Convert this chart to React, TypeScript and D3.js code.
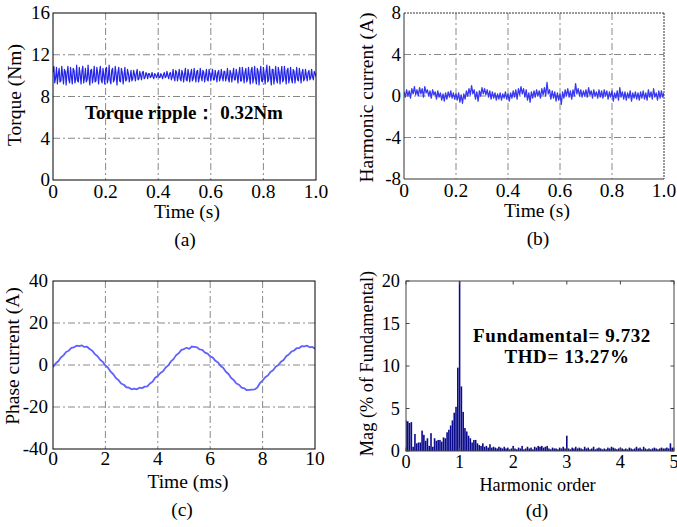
import React from 'react';
import * as d3 from 'd3';

const FONT = '"Liberation Serif", "Times New Roman", Times, serif';

// ---------- Panel (a): torque ----------
const torqueXTicks = [0, 0.2, 0.4, 0.6, 0.8, 1.0];
const torqueXLabels = ['0', '0.2', '0.4', '0.6', '0.8', '1.0'];
const torqueYTicks = [0, 4, 8, 12, 16];
const torqueYLabels = ['0', '4', '8', '12', '16'];
const torqueValues = [
  10.3, 10.9, 9.3, 9.8, 10.8, 9.2, 10.1, 10.7, 9.4, 9.5, 10.9, 10.0, 9.2, 10.6, 10.4,
  9.1, 10.2, 10.9, 9.6, 9.3, 10.8, 9.9, 9.2, 10.7, 10.5, 9.3, 9.7, 11.0, 9.5, 9.4,
  10.8, 10.1, 9.2, 10.4, 10.9, 9.3, 9.8, 10.7, 9.4, 9.6, 11.0, 9.9, 9.1, 10.5, 10.6,
  9.3, 9.9, 10.9, 9.4, 9.5, 10.8, 10.2, 9.2, 10.3, 10.9, 9.6, 9.3, 10.7, 10.0, 9.2,
  10.6, 10.8, 9.3, 9.7, 11.0, 9.6, 9.2, 10.5, 10.7, 9.4, 9.6, 10.9, 10.1, 9.1, 10.3,
  10.8, 9.5, 9.4, 10.7, 10.3, 9.2, 10.0, 10.8, 9.5, 9.6, 10.6, 10.2, 9.4, 9.9, 10.5,
  9.5, 9.7, 10.5, 10.1, 9.5, 10.2, 10.6, 9.6, 9.7, 10.4, 10.0, 9.6, 10.3, 10.4, 9.7,
  9.8, 10.3, 10.1, 9.7, 10.2, 10.2, 9.8, 9.9, 10.3, 9.9, 9.7, 10.2, 10.1, 9.8, 10.0,
  10.3, 9.8, 9.8, 10.2, 10.0, 9.7, 10.1, 10.3, 9.8, 9.9, 10.4, 10.0, 9.7, 10.2, 10.3,
  9.6, 9.9, 10.6, 9.8, 9.5, 10.5, 10.3, 9.5, 10.0, 10.6, 9.7, 9.5, 10.5, 10.2, 9.4,
  10.1, 10.7, 9.6, 9.5, 10.6, 10.1, 9.4, 10.2, 10.6, 9.5, 9.7, 10.7, 10.0, 9.4, 10.4,
  10.5, 9.4, 9.8, 10.7, 9.9, 9.5, 10.5, 10.3, 9.4, 10.0, 10.6, 9.6, 9.5, 10.6, 10.2,
  9.5, 10.1, 10.6, 9.6, 9.6, 10.5, 10.0, 9.4, 10.3, 10.5, 9.5, 9.8, 10.6, 9.9, 9.5,
  10.4, 10.4, 9.5, 9.9, 10.7, 9.7, 9.4, 10.5, 10.2, 9.4, 10.1, 10.7, 9.6, 9.6, 10.6,
  10.1, 9.3, 10.2, 10.8, 9.5, 9.5, 10.8, 10.1, 9.3, 10.3, 10.7, 9.4, 9.7, 10.8, 9.9,
  9.2, 10.5, 10.8, 9.3, 9.8, 10.9, 9.7, 9.2, 10.7, 10.4, 9.1, 10.2, 10.9, 9.5, 9.4,
  10.8, 10.1, 9.2, 10.4, 11.0, 9.4, 9.6, 10.9, 9.9, 9.1, 10.6, 10.6, 9.2, 9.9, 10.9,
  9.6, 9.3, 10.8, 10.3, 9.2, 10.2, 10.9, 9.4, 9.6, 10.9, 10.0, 9.2, 10.5, 10.7, 9.3,
  9.8, 10.8, 9.7, 9.3, 10.6, 10.4, 9.3, 10.0, 10.8, 9.6, 9.5, 10.7, 10.1, 9.3, 10.3,
  10.6, 9.5, 9.7, 10.6, 10.0, 9.5, 10.3, 10.5, 9.6, 9.8, 10.6, 9.9, 9.6, 10.4, 10.2, 9.9,
];

// ---------- Panel (b): harmonic current ----------
const harmYTicks = [-8, -4, 0, 4, 8];
const harmYLabels = ['-8', '-4', '0', '4', '8'];
const harmValues = [
  0.4, -0.1, 0.6, 0.0, 0.5, -0.2, 0.7, 0.2, 0.9, 0.1,
  0.6, 0.0, 0.8, 0.2, 0.7, -0.1, 0.9, 0.3, 0.6, 0.0,
  0.5, -0.2, 0.6, 0.1, 0.4, -0.3, 0.5, -0.1, 0.3, -0.4,
  0.2, -0.5, 0.3, -0.3, 0.4, -0.1, 0.5, -0.2, 0.3, -0.3,
  0.2, -0.4, 0.3, -0.6, 0.1, -0.7, 0.2, -0.3, 0.5, 0.0,
  0.7, 0.1, 1.0, 0.2, 0.6, -0.3, 0.4, -0.5, 0.5, 0.0,
  0.8, 0.2, 0.7, 0.1, 0.6, -0.1, 0.5, -0.3, 0.4, -0.2,
  0.3, -0.4, 0.2, -0.3, 0.3, -0.4, 0.2, -0.2, 0.4, -0.3,
  0.2, -0.5, 0.3, -0.2, 0.5, -0.1, 0.6, -0.3, 0.7, 0.1,
  0.9, 0.2, 0.7, -0.1, 0.6, -0.4, 0.3, -0.6, 0.4, -0.2,
  0.5, -0.1, 0.6, 0.0, 0.5, -0.2, 0.7, 0.1, 0.8, 0.0,
  1.3, 0.2, 0.6, -0.3, 0.5, -0.2, 0.4, -0.5, 0.3, -0.4,
  0.2, -0.8, 0.4, -0.2, 0.6, 0.0, 0.7, -0.1, 0.5, -0.3,
  0.6, 0.0, 1.2, 0.2, 0.7, 0.0, 0.6, -0.1, 0.5, 0.0,
  0.6, -0.1, 0.8, 0.1, 0.5, -0.2, 0.6, 0.0, 0.4, -0.2,
  0.6, -0.1, 0.5, -0.2, 0.6, 0.0, 0.5, -0.3, 0.4, -0.1,
  0.5, -0.5, 0.3, -0.2, 0.5, -0.4, 0.8, -0.1, 0.4, -0.3,
  0.4, -0.4, 0.3, -0.2, 0.5, -0.5, 0.3, -0.2, 0.4, -0.3,
  0.3, -0.4, 0.4, -0.2, 0.5, -0.3, 0.3, -0.4, 0.6, -0.1,
  0.4, -0.3, 0.7, -0.1, 0.3, -0.4, 0.5, -0.2, 0.5, -0.1, 0.3,
];

// ---------- Panel (c): phase current ----------
const phaseXTicks = [0, 2, 4, 6, 8, 10];
const phaseXLabels = ['0', '2', '4', '6', '8', '10'];
const phaseYTicks = [-40, -20, 0, 20, 40];
const phaseYLabels = ['-40', '-20', '0', '20', '40'];
const phaseValues = [
  -1, 0.7, 1.8, 3.6, 4.6, 6.2, 6.8, 8.1, 8.4, 9.2,
  9.0, 9.3, 8.6, 8.7, 7.6, 6.8, 5.2, 4.2, 2.5, 1.5,
  -0.2, -1.3, -3.2, -4.4, -6.2, -7.2, -8.8, -9.4, -10.6, -10.8,
  -11.6, -11.3, -11.6, -10.8, -11.0, -10.3, -10.2, -8.8, -8.0, -6.1,
  -5.2, -3.8, -3.0, -1.2, -0.2, 1.7, 2.8, 4.7, 5.6, 7.2,
  7.6, 8.2, 7.7, 8.8, 8.6, 8.4, 7.4, 7.2, 5.9, 5.4,
  4.1, 3.5, 2.0, 1.2, -0.5, -1.4, -3.2, -4.3, -6.2, -7.2,
  -8.8, -9.4, -10.8, -11.1, -12.0, -11.8, -11.7, -11.6, -10.7, -8.6,
  -7.4, -5.8, -5.0, -3.3, -2.5, -0.8, 0.0, 1.5, 2.4, 4.2,
  5.0, 6.4, 6.9, 8.0, 8.1, 9.0, 8.9, 9.2, 8.4, 8.6, 7.8,
];

// ---------- Panel (d): harmonic spectrum ----------
const specXTicks = [0, 1, 2, 3, 4, 5];
const specXLabels = ['0', '1', '2', '3', '4', '5'];
const specYTicks = [0, 5, 10, 15, 20];
const specYLabels = ['0', '5', '10', '15', '20'];
const specBinsPerOrder = 30;
const specValues = [
  3.6, 3.5, 3.3, 3.4, 0.5, 2.0, 0.9, 1.0, 1.0, 2.4,
  1.9, 1.2, 1.5, 0.6, 2.1, 0.5, 1.5, 1.2, 1.3, 1.3,
  1.1, 1.6, 1.5, 2.2, 2.5, 3.0, 3.6, 4.5, 5.2, 9.8,
  100, 7.6, 4.6, 2.7, 2.3, 1.8, 1.5, 1.0, 1.3, 1.3,
  0.9, 0.7, 0.6, 0.9, 0.5, 0.6, 0.4, 0.8, 0.4, 0.5,
  0.4, 0.3, 0.5, 0.4, 0.3, 0.5, 0.3, 0.4, 0.2, 0.3,
  0.6, 0.3, 0.2, 0.4, 0.3, 0.6, 0.2, 0.3, 0.5, 0.3,
  0.4, 0.2, 0.5, 0.4, 0.6, 0.5, 0.6, 0.4, 0.5, 0.6,
  0.3, 0.2, 0.4, 0.3, 0.3, 0.2, 0.4, 0.3, 0.5, 0.3,
  1.8, 0.3, 0.2, 0.4, 0.3, 0.5, 0.3, 0.4, 0.3, 0.2,
  0.5, 0.3, 0.4, 0.2, 0.3, 0.5, 0.2, 0.3, 0.4, 0.3,
  0.2, 0.3, 0.2, 0.4, 0.3, 0.5, 0.4, 0.3, 0.2, 0.3,
  0.4, 0.3, 0.2, 0.3, 0.2, 0.4, 0.3, 0.2, 0.3, 0.5,
  0.3, 0.4, 0.2, 0.5, 0.3, 0.2, 0.3, 0.2, 0.3, 0.4,
  0.3, 0.2, 0.3, 0.4, 0.3, 0.3, 0.4, 0.3, 0.9, 0.4, 0.3,
];

type LineCfg = {
  id: string;
  left: number; right: number; top: number; bottom: number;
  xDomain: [number, number]; yDomain: [number, number];
  dt: number;
  xTicks: number[]; xLabels: string[];
  yTicks: number[]; yLabels: string[];
  values: number[];
  color: string; lineWidth: number;
  xLabel: string; yLabel: string; caption: string;
  tickBase: number; xLabelBase: number; xLabelX: number;
  captionBase: number; captionX: number;
  yLabelX: number; yLabelY: number;
  yTickGap: number;
  dashedFrame?: boolean;
};

const GRID = { stroke: '#7a7a7a', strokeWidth: 0.9, strokeDasharray: '7,3,2,3' };

function LinePanel({ c }: { c: LineCfg }) {
  const x = d3.scaleLinear().domain(c.xDomain).range([c.left, c.right]);
  const y = d3.scaleLinear().domain(c.yDomain).range([c.bottom, c.top]);
  const line = d3
    .line<number>()
    .x((_, i) => x(c.xDomain[0] + i * c.dt))
    .y((d) => y(d));
  const fs = 19.5;
  const fsTick = 19;
  return (
    <g>
      <defs>
        <clipPath id={`clip-${c.id}`}>
          <rect x={c.left} y={c.top} width={c.right - c.left} height={c.bottom - c.top} />
        </clipPath>
      </defs>
      {c.xTicks.slice(1, -1).map((t) => (
        <line key={'gx' + t} x1={x(t)} x2={x(t)} y1={c.top} y2={c.bottom} {...GRID} />
      ))}
      {c.yTicks.slice(1, -1).map((t) => (
        <line key={'gy' + t} x1={c.left} x2={c.right} y1={y(t)} y2={y(t)} {...GRID} />
      ))}
      <path
        d={line(c.values) || ''}
        fill="none"
        stroke={c.color}
        strokeWidth={c.lineWidth}
        strokeLinejoin="round"
        clipPath={`url(#clip-${c.id})`}
      />
      {c.dashedFrame ? (
        <g fill="none" stroke="#333" strokeWidth={1}>
          <line x1={c.left} x2={c.left} y1={c.top} y2={c.bottom} />
          <line x1={c.left} x2={c.right} y1={c.bottom} y2={c.bottom} />
          <line x1={c.left} x2={c.right} y1={c.top} y2={c.top} strokeDasharray="2,1" />
          <line x1={c.right} x2={c.right} y1={c.top} y2={c.bottom} strokeDasharray="2,1" />
        </g>
      ) : (
        <rect x={c.left} y={c.top} width={c.right - c.left} height={c.bottom - c.top} fill="none" stroke="#000" strokeWidth={1} />
      )}
      {c.xTicks.map((t, i) => (
        <text key={'tx' + t} x={x(t)} y={c.tickBase} textAnchor="middle" fontSize={fs} fontFamily={FONT}>
          {c.xLabels[i]}
        </text>
      ))}
      {c.yTicks.map((t, i) => (
        <text key={'ty' + t} x={c.left - c.yTickGap} y={y(t)} dy="0.33em" textAnchor="end" fontSize={fsTick} fontFamily={FONT}>
          {c.yLabels[i]}
        </text>
      ))}
      <text x={c.xLabelX} y={c.xLabelBase} textAnchor="middle" fontSize={fs} fontFamily={FONT}>
        {c.xLabel}
      </text>
      <text
        transform={`translate(${c.yLabelX},${c.yLabelY}) rotate(-90)`}
        textAnchor="middle"
        fontSize={fs}
        fontFamily={FONT}
      >
        {c.yLabel}
      </text>
      <text x={c.captionX} y={c.captionBase} textAnchor="middle" fontSize={fs} fontFamily={FONT}>
        {c.caption}
      </text>
    </g>
  );
}

function SpectrumPanel() {
  const left = 406, right = 674, top = 281, bottom = 451;
  const x = d3.scaleLinear().domain([0, 5]).range([left, right]);
  const y = d3.scaleLinear().domain([0, 20]).range([bottom, top]);
  const fs = 18.3;
  const barW = 1.6;
  const tl = 3.5;
  return (
    <g>
      <defs>
        <clipPath id="clip-d">
          <rect x={left} y={top} width={right - left} height={bottom - top} />
        </clipPath>
      </defs>
      <g clipPath="url(#clip-d)">
        {specValues.map((v, i) => {
          const xc = x(i / specBinsPerOrder);
          const yt = y(v);
          return (
            <rect key={i} x={xc - barW / 2} y={yt} width={barW} height={bottom - yt} fill="#0b0b8e" />
          );
        })}
      </g>
      <rect x={left} y={top} width={right - left} height={bottom - top} fill="none" stroke="#444" strokeWidth={1} />
      {specXTicks.map((t) => (
        <g key={'tk' + t} stroke="#444" strokeWidth={1}>
          <line x1={x(t)} x2={x(t)} y1={bottom} y2={bottom - tl} />
          <line x1={x(t)} x2={x(t)} y1={top} y2={top + tl} />
        </g>
      ))}
      {specYTicks.map((t) => (
        <g key={'tky' + t} stroke="#444" strokeWidth={1}>
          <line x1={left} x2={left + tl} y1={y(t)} y2={y(t)} />
          <line x1={right} x2={right - tl} y1={y(t)} y2={y(t)} />
        </g>
      ))}
      {specXTicks.map((t, i) => (
        <text key={'lx' + t} x={x(t)} y={468} textAnchor="middle" fontSize={fs} fontFamily={FONT}>
          {specXLabels[i]}
        </text>
      ))}
      {specYTicks.map((t, i) => (
        <text key={'ly' + t} x={left - 6} y={y(t)} dy="0.35em" textAnchor="end" fontSize={fs} fontFamily={FONT}>
          {specYLabels[i]}
        </text>
      ))}
      <text x={537.5} y={491} textAnchor="middle" fontSize={fs} fontFamily={FONT}>
        Harmonic order
      </text>
      <text transform={`translate(373,363.5) rotate(-90)`} textAnchor="middle" fontSize={fs} fontFamily={FONT}>
        Mag (% of Fundamental)
      </text>
      <text x={537} y={517} textAnchor="middle" fontSize={19.5} fontFamily={FONT}>
        (d)
      </text>
      <text x={562} y={342} textAnchor="middle" fontSize={19} fontWeight="bold" letterSpacing={0.6} fontFamily={FONT}>
        Fundamental= 9.732
      </text>
      <text x={567} y={363} textAnchor="middle" fontSize={19} fontWeight="bold" letterSpacing={0.6} fontFamily={FONT}>
        THD= 13.27%
      </text>
    </g>
  );
}

const panelA: LineCfg = {
  id: 'a', left: 53, right: 316, top: 13, bottom: 180,
  xDomain: [0, 1], yDomain: [0, 16], dt: 1 / 300,
  xTicks: torqueXTicks, xLabels: torqueXLabels, yTicks: torqueYTicks, yLabels: torqueYLabels,
  values: torqueValues, color: '#2424e8', lineWidth: 1.2,
  xLabel: 'Time (s)', yLabel: 'Torque (Nm)', caption: '(a)',
  tickBase: 198, xLabelBase: 218, xLabelX: 187, captionBase: 246, captionX: 185,
  yLabelX: 21, yLabelY: 95, yTickGap: 3,
};

const panelB: LineCfg = {
  id: 'b', left: 404, right: 664, top: 13, bottom: 179,
  xDomain: [0, 1], yDomain: [-8, 8], dt: 0.005,
  xTicks: torqueXTicks, xLabels: torqueXLabels, yTicks: harmYTicks, yLabels: harmYLabels,
  values: harmValues, color: '#3838f2', lineWidth: 1.3,
  xLabel: 'Time (s)', yLabel: 'Harmonic current (A)', caption: '(b)',
  tickBase: 197, xLabelBase: 217, xLabelX: 537, captionBase: 245, captionX: 538,
  yLabelX: 373, yLabelY: 97.5, yTickGap: 3, dashedFrame: true,
};

const panelC: LineCfg = {
  id: 'c', left: 53, right: 315, top: 281, bottom: 449,
  xDomain: [0, 10], yDomain: [-40, 40], dt: 0.1,
  xTicks: phaseXTicks, xLabels: phaseXLabels, yTicks: phaseYTicks, yLabels: phaseYLabels,
  values: phaseValues, color: '#6060ff', lineWidth: 1.8,
  xLabel: 'Time (ms)', yLabel: 'Phase current (A)', caption: '(c)',
  tickBase: 465, xLabelBase: 488, xLabelX: 188, captionBase: 516, captionX: 182,
  yLabelX: 19, yLabelY: 356, yTickGap: 5,
};

export default function App() {
  return (
    <svg
      width={677}
      height={527}
      viewBox="0 0 677 527"
      style={{ position: 'absolute', left: 0, top: 0, background: '#fff' }}
    >
      <rect x={0} y={0} width={677} height={527} fill="#fff" />
      <LinePanel c={panelA} />
      <text x={85} y={119} fontSize={19} fontWeight="bold" fontFamily={FONT}>
        Torque ripple： 0.32Nm
      </text>
      <LinePanel c={panelB} />
      <LinePanel c={panelC} />
      <SpectrumPanel />
    </svg>
  );
}
